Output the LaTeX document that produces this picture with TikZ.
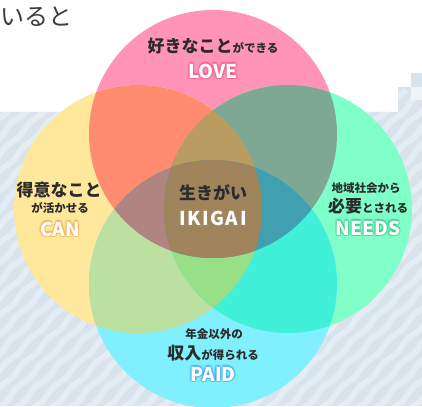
\documentclass[tikz,border=0pt]{standalone}
\usepackage{fontspec}
\setmainfont{Noto Sans CJK JP}
\usepackage{tikz}
\usetikzlibrary{decorations.pathmorphing}
\definecolor{LovePink}{HTML}{FF94B8}
\definecolor{CanYellow}{HTML}{FFE89C}
\definecolor{NeedsGreen}{HTML}{80FFC8}
\definecolor{PaidCyan}{HTML}{80F0FF}
\definecolor{LoveCan}{HTML}{FF8C70}
\definecolor{LoveNeeds}{HTML}{7FA894}
\definecolor{CanPaid}{HTML}{BCE0A0}
\definecolor{NeedsPaid}{HTML}{40F0D8}
\definecolor{TopMix}{HTML}{B89C60}
\definecolor{LeftMix}{HTML}{B08480}
\definecolor{RightMix}{HTML}{40A0B0}
\definecolor{BottomMix}{HTML}{98E088}
\definecolor{CoreMix}{HTML}{A0845C}
\definecolor{TextDark}{HTML}{2B2B2B}
\definecolor{LeadGray}{HTML}{3C3C3C}
\definecolor{StripeBase}{HTML}{D9E3EC}
\definecolor{StripeLight}{HTML}{E4EDF5}
\definecolor{LoveGlow}{HTML}{F0507F}
\definecolor{CanGlow}{HTML}{F5A040}
\definecolor{NeedsGlow}{HTML}{2FC07F}
\definecolor{PaidGlow}{HTML}{3F9FE0}
\newcommand{\jpbig}{\fontsize{17}{20}\selectfont}
\newcommand{\jpsmall}{\fontsize{11.5}{14}\selectfont}
\def\rad{124pt}

\begin{document}
\begin{tikzpicture}[x=1pt,y=-1pt,
    lbl/.style={inner sep=0pt, text=TextDark, font=\bfseries},
    word/.style={inner sep=0pt, text=white, font=\bfseries\fontsize{19}{22}\selectfont},
    halo/.style={word, text=#1, opacity=.3},
    stripe/.style={line width=6pt, StripeLight, decorate,
                   decoration={snake, segment length=34pt, amplitude=1.2pt}}
]
    \useasboundingbox (0,0) rectangle (422,406);
    \fill[white] (0,0) rectangle (422,406);

    % striped backdrop
    \begin{scope}
        \clip (0,112) -- (398,112) -- (398,87) -- (411,87) -- (411,73) -- (422,73)
              -- (422,406) -- (0,406) -- cycle;
        \fill[StripeBase] (0,60) rectangle (422,406);
        \foreach \s in {-320,-302,...,430}
            \draw[stripe] (\s,420) -- ++(330,-330);
    \end{scope}
    \fill[StripeLight!60!white] (411,87) rectangle (422,100);

    % lead text
    \node[anchor=west, inner sep=0pt, text=LeadGray, font=\fontsize{24}{28}\selectfont]
        (lead) at (0,17) {いると};

    % circles
    \coordinate (love) at (213,134);
    \coordinate (can) at (138,209);
    \coordinate (needs) at (288,209);
    \coordinate (paid) at (213,284);
    \fill[LovePink] (love) circle[radius=\rad];
    \fill[CanYellow] (can) circle[radius=\rad];
    \fill[NeedsGreen] (needs) circle[radius=\rad];
    \fill[PaidCyan] (paid) circle[radius=\rad];

    % two-way overlaps
    \begin{scope}
        \clip (love) circle[radius=\rad];
        \fill[LoveCan] (can) circle[radius=\rad];
        \fill[LoveNeeds] (needs) circle[radius=\rad];
    \end{scope}
    \begin{scope}
        \clip (paid) circle[radius=\rad];
        \fill[CanPaid] (can) circle[radius=\rad];
        \fill[NeedsPaid] (needs) circle[radius=\rad];
    \end{scope}

    % three-way overlaps
    \begin{scope}
        \clip (can) circle[radius=\rad];
        \clip (needs) circle[radius=\rad];
        \fill[TopMix] (love) circle[radius=\rad];
        \fill[BottomMix] (paid) circle[radius=\rad];
    \end{scope}
    \begin{scope}
        \clip (love) circle[radius=\rad];
        \clip (paid) circle[radius=\rad];
        \fill[LeftMix] (can) circle[radius=\rad];
        \fill[RightMix] (needs) circle[radius=\rad];
    \end{scope}

    % centre
    \begin{scope}
        \clip (love) circle[radius=\rad];
        \clip (paid) circle[radius=\rad];
        \clip (can) circle[radius=\rad];
        \fill[CoreMix] (needs) circle[radius=\rad];
    \end{scope}

    % LOVE
    \node[lbl] (love-jp) at (213,46) {{\jpbig 好きなこと}{\jpsmall ができる}};
    \foreach \a in {0,45,...,315}
        \node[halo=LoveGlow, shift={(\a:1.6pt)}] at (213,71) {LOVE};
    \node[word] (love-en) at (213,71) {LOVE};

    % CAN
    \node[lbl, font=\bfseries\jpbig] (can-jp) at (59,190) {得意なこと};
    \node[lbl, font=\bfseries\jpsmall] (can-sub) at (60,208) {が活かせる};
    \foreach \a in {0,45,...,315}
        \node[halo=CanGlow, shift={(\a:1.6pt)}] at (60,229) {CAN};
    \node[word] (can-en) at (60,229) {CAN};

    % NEEDS
    \node[lbl, font=\bfseries\jpsmall] (needs-sub) at (366,188) {地域社会から};
    \node[lbl] (needs-jp) at (368,206) {{\jpbig 必要}{\jpsmall とされる}};
    \foreach \a in {0,45,...,315}
        \node[halo=NeedsGlow, shift={(\a:1.6pt)}] at (368,228) {NEEDS};
    \node[word] (needs-en) at (368,228) {NEEDS};

    % IKIGAI
    \node[lbl, font=\bfseries\jpbig] (core-jp) at (213,193) {生きがい};
    \node[word] (core-en) at (213,218) {I\kern1.5pt K\kern1.5pt I\kern1.5pt G\kern1.5pt A\kern1.5pt I};

    % PAID
    \node[lbl, font=\bfseries\jpsmall] (paid-sub) at (214,334) {年金以外の};
    \node[lbl] (paid-jp) at (213,353) {{\jpbig 収入}{\jpsmall が得られる}};
    \foreach \a in {0,45,...,315}
        \node[halo=PaidGlow, shift={(\a:1.6pt)}] at (213,374) {PAID};
    \node[word] (paid-en) at (213,374) {PAID};
\end{tikzpicture}
\end{document}
